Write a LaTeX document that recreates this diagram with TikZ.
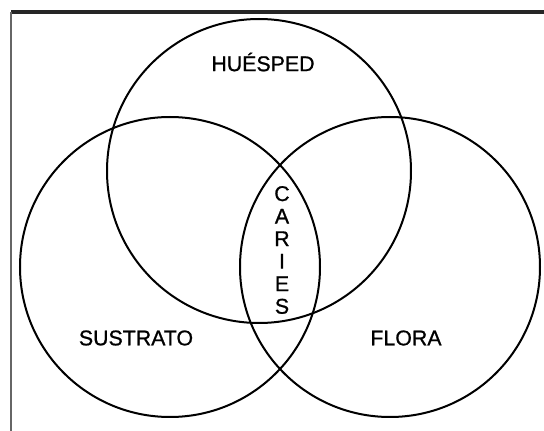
\documentclass[tikz,border=0pt]{standalone}
\usepackage{fontspec}
\setmainfont{Liberation Sans}[BoldFont=Liberation Sans, BoldFeatures={FakeBold=0.9}]
\usepackage{tikz}
\usepackage{xcolor}

\begin{document}
\begin{tikzpicture}[x=0.75pt, y=-0.75pt]
    \useasboundingbox (0,0) rectangle (544,431);

    % frame edges
    \coordinate (tl) at (11,12);
    \coordinate (tr) at (544,12);
    \coordinate (bl) at (11,431);
    \draw[line width=2.4pt, black!85] (tl) -- (tr);
    \draw[line width=1.1pt, black!60] (tl) -- (bl);

    \node[draw, circle, line width=1.5pt, inner sep=0pt, minimum size=228pt] (huesped) at (259,171) {};
    \node[draw, circle, line width=1.5pt, inner sep=0pt, minimum size=225pt] (sustrato) at (170,267) {};
    \node[draw, circle, line width=1.5pt, inner sep=0pt, minimum size=225pt] (flora) at (390,267) {};

    \node[font=\fontsize{16}{19}\selectfont\bfseries] (lh) at (263,62) {HUÉSPED};
    \node[font=\fontsize{16}{19}\selectfont\bfseries] (ls) at (136,338) {SUSTRATO};
    \node[font=\fontsize{16}{19}\selectfont\bfseries] (lf) at (406,338) {FLORA};
    \node[font=\fontsize{16}{16.9}\selectfont\bfseries, align=center, inner sep=0pt] (caries) at (282,250) {C\\A\\R\\I\\E\\S};
\end{tikzpicture}
\end{document}
